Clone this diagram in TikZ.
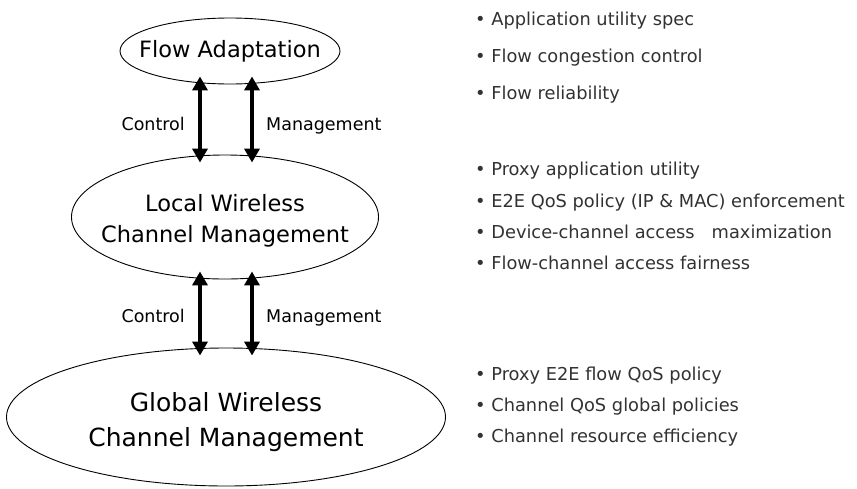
\documentclass[tikz,border=0pt]{standalone}
\usepackage{fontspec}
\setmainfont{DejaVu Sans}
\usepackage{tikz}
\usetikzlibrary{shapes.geometric,arrows.meta}
\definecolor{itemgray}{RGB}{50,50,50}
\newcommand{\tipw}{15pt}
\newcommand{\tipl}{14pt}

\begin{document}
\begin{tikzpicture}[x=1pt,y=-1pt,
        blob/.style={ellipse, draw, line width=0.9pt, inner sep=0pt},
        blobtext/.style={align=center, inner sep=0pt},
        biarrow/.style={line width=4pt, {Triangle[width=\tipw,length=\tipl]}-{Triangle[width=\tipw,length=\tipl]},
                        shorten <=-8pt, shorten >=-8pt},
        lbl/.style={font=\fontsize{17.5}{20}\selectfont, inner sep=0pt},
        itm/.style={font=\fontsize{17.8}{20}\selectfont, text=itemgray, anchor=base west, inner sep=0pt}]
    \useasboundingbox (0,0) rectangle (857,488);
    %\draw[help lines, step=50] (0,0) grid (857,488);
    \node[blob, minimum width=220pt, minimum height=66pt] (adapt) at (230,51) {};
    \node[blob, minimum width=307pt, minimum height=124pt] (lwcm) at (225,217) {};
    \node[blob, minimum width=439pt, minimum height=138pt] (gwcm) at (226,417) {};
    \node[blobtext, font=\fontsize{22.5}{27}\selectfont] (adaptT) at (adapt) {Flow Adaptation};
    \node[blobtext, font=\fontsize{22.5}{31}\selectfont, yshift=-4pt] (lwcmT) at (lwcm) {Local Wireless\\Channel Management};
    \node[blobtext, font=\fontsize{25}{35}\selectfont, yshift=-5pt] (gwcmT) at (gwcm) {Global Wireless\\Channel Management};
    \coordinate (cl) at (200,0);
    \coordinate (cr) at (252,0);
    \foreach \a/\b/\y [count=\i] in {adapt/lwcm/130, lwcm/gwcm/322} {
        \draw[biarrow] (\a.south -| cl) -- (\b.north -| cl);
        \draw[biarrow] (\a.south -| cr) -- (\b.north -| cr);
        \node[lbl, anchor=base east] (ctl\i) at (185,\y) {Control};
        \node[lbl, anchor=base west] (mgt\i) at (266,\y) {Management};
    }
    \foreach \y/\t [count=\i] in {25/Application utility spec, 62/Flow congestion control, 99/Flow reliability,
            175/Proxy application utility, 207/E2E QoS policy (IP \& MAC) enforcement,
            238/Device-channel access~~~maximization, 269/Flow-channel access fairness,
            380/Proxy E2E flow QoS policy, 411/Channel QoS global policies, 442/Channel resource efficiency} {
        \node[itm] (b\i) at (475,\y) {\textbullet\ \t};
    }
\end{tikzpicture}
\end{document}
